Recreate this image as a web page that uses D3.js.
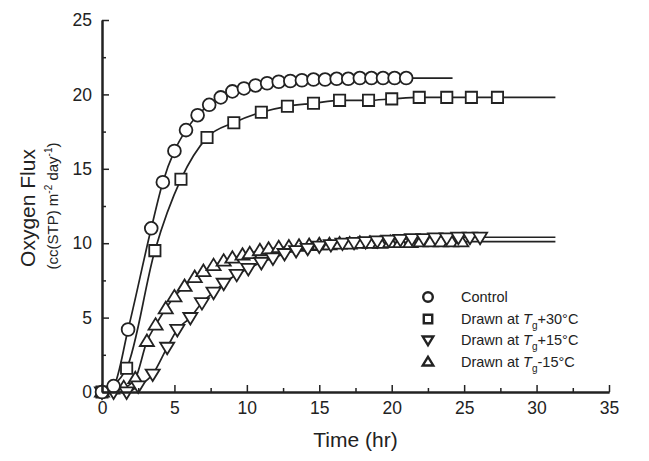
<!DOCTYPE html>
<html>
<head>
<meta charset="utf-8">
<script src="https://cdn.jsdelivr.net/npm/d3@7/dist/d3.min.js"></script>
<style>
  html, body { margin: 0; padding: 0; background: #fff; }
  svg { display: block; }
  text { font-family: "Liberation Sans", Arial, Helvetica, sans-serif; fill: #222; }
</style>
</head>
<body>
<svg id="chart" width="649" height="461"></svg>
<script>
// ---- Data ----
const controlT = [0, 0.8, 1.8, 3.4, 4.2, 5.0, 5.8, 6.6, 7.4, 8.2, 9.0, 9.8, 10.6, 11.4, 12.2, 13.0, 13.8, 14.6, 15.4, 16.2, 17.0, 17.8, 18.6, 19.4, 20.2, 21.0];
const controlV = [0, 0.4, 4.2, 11.0, 14.1, 16.2, 17.6, 18.6, 19.3, 19.8, 20.2, 20.4, 20.6, 20.75, 20.85, 20.9, 20.95, 21.0, 21.0, 21.05, 21.05, 21.1, 21.1, 21.1, 21.1, 21.1];

const plus30T = [0, 1.7, 3.65, 5.45, 7.25, 9.1, 11.0, 12.8, 14.6, 16.4, 18.4, 20.0, 21.9, 23.8, 25.5, 27.3];
const plus30V = [0, 1.6, 9.5, 14.3, 17.1, 18.1, 18.8, 19.2, 19.4, 19.6, 19.6, 19.7, 19.8, 19.8, 19.8, 19.8];

const plus15T = [0, 0.8, 1.7, 2.5, 3.5, 4.5, 5.2, 6.1, 6.9, 7.7, 8.4, 9.3, 10.1, 11.0, 11.8, 12.6, 13.4, 14.2, 15.0, 15.8, 16.6, 17.4, 18.2, 19.0, 19.8, 20.6, 21.4, 22.2, 23.0, 23.8, 24.6, 25.4, 26.1];
const plus15V = [0, 0, 0, 0.4, 1.2, 3.0, 4.2, 5.0, 6.0, 6.7, 7.3, 7.9, 8.3, 8.7, 9.0, 9.3, 9.5, 9.65, 9.8, 9.9, 10.0, 10.05, 10.1, 10.15, 10.2, 10.25, 10.3, 10.3, 10.35, 10.35, 10.4, 10.4, 10.4];

const minus15T = [0, 0.7, 1.5, 2.3, 3.1, 3.7, 4.4, 5.0, 5.7, 6.4, 7.0, 7.7, 8.4, 9.0, 9.7, 10.2, 10.9, 11.5, 12.2, 12.9, 13.6, 14.3, 15.0, 15.7, 16.4, 17.1, 17.8, 18.5, 19.2, 19.9, 20.6, 21.3, 22.0, 22.7, 23.4, 24.1, 24.8];
const minus15V = [0, 0.2, 0.3, 0.9, 3.4, 4.5, 5.6, 6.4, 7.1, 7.7, 8.1, 8.5, 8.8, 9.0, 9.2, 9.3, 9.5, 9.6, 9.7, 9.75, 9.8, 9.85, 9.9, 9.9, 9.95, 9.95, 10.0, 10.0, 10.0, 10.05, 10.05, 10.05, 10.1, 10.1, 10.1, 10.1, 10.1];

// end points of the fitted curves (extension beyond the last marker)
const fitEndT = [24.2, 31.3, 31.3, 31.3];
const fitEndV = [21.1, 19.8, 10.4, 10.1];

const seriesNames = ["Control", "Drawn at Tg+30°C", "Drawn at Tg+15°C", "Drawn at Tg-15°C"];
const xTicks = [0, 5, 10, 15, 20, 25, 30, 35];
const yTicks = [0, 5, 10, 15, 20, 25];
const xMinorTicks = [2.5, 7.5, 12.5, 17.5, 22.5, 27.5, 32.5];
const yMinorTicks = [2.5, 7.5, 12.5, 17.5, 22.5];

// ---- Layout ----
const svg = d3.select("#chart");
const x = d3.scaleLinear().domain([0, 35]).range([102, 609]);
const y = d3.scaleLinear().domain([0, 25]).range([392, 20]);

const series = [
  { t: controlT, v: controlV, shape: "circle" },
  { t: plus30T, v: plus30V, shape: "square" },
  { t: plus15T, v: plus15V, shape: "down" },
  { t: minus15T, v: minus15V, shape: "up" }
].map((s, i) => ({ ...s, name: seriesNames[i], endT: fitEndT[i], endV: fitEndV[i] }));

// ---- Fit lines ----
const line = d3.line().x(d => x(d[0])).y(d => y(d[1])).curve(d3.curveMonotoneX);
series.forEach(s => {
  const pts = s.t.map((t, i) => [t, s.v[i]]);
  pts.push([s.endT, s.endV]);
  svg.append("path")
    .attr("d", line(pts))
    .attr("fill", "none")
    .attr("stroke", "#222")
    .attr("stroke-width", 1.7);
});

// ---- Markers ----
function markerPath(shape, r) {
  if (shape === "square") {
    return `M${-r},${-r}H${r}V${r}H${-r}Z`;
  }
  const h = r * 1.8;
  if (shape === "up") {
    return `M0,${-h * 0.6}L${r * 1.1},${h * 0.4}L${-r * 1.1},${h * 0.4}Z`;
  }
  return `M0,${h * 0.6}L${r * 1.1},${-h * 0.4}L${-r * 1.1},${-h * 0.4}Z`;
}
function drawMarker(g, shape, cx, cy, size, sw) {
  if (shape === "circle") {
    g.append("circle").attr("cx", cx).attr("cy", cy).attr("r", size)
      .attr("fill", "#fff").attr("stroke", "#222").attr("stroke-width", sw);
  } else {
    g.append("path").attr("d", markerPath(shape, shape === "square" ? size * 0.88 : size))
      .attr("transform", `translate(${cx},${cy})`)
      .attr("fill", "#fff").attr("stroke", "#222").attr("stroke-width", sw);
  }
}
const markerOrder = [3, 2, 1, 0];
markerOrder.forEach(k => {
  const s = series[k];
  const g = svg.append("g");
  s.t.forEach((t, i) => drawMarker(g, s.shape, x(t), y(s.v[i]), 6.4, 1.8));
});

// ---- Axes ----
const axX = svg.append("g").attr("transform", `translate(0,${y(0)})`)
  .call(d3.axisBottom(x).tickValues(xTicks).tickSize(-7).tickSizeOuter(0).tickPadding(10));
const axXm = svg.append("g").attr("transform", `translate(0,${y(0)})`)
  .call(d3.axisBottom(x).tickValues(xMinorTicks).tickSize(-4).tickSizeOuter(0).tickFormat(""));
const axY = svg.append("g").attr("transform", `translate(${x(0)},0)`)
  .call(d3.axisLeft(y).tickValues(yTicks).tickSize(-7).tickSizeOuter(0).tickPadding(10));
const axYm = svg.append("g").attr("transform", `translate(${x(0)},0)`)
  .call(d3.axisLeft(y).tickValues(yMinorTicks).tickSize(-4).tickSizeOuter(0).tickFormat(""));

[axX, axXm, axY, axYm].forEach(a => {
  a.select(".domain").attr("stroke", "#222").attr("stroke-width", 2);
  a.selectAll(".tick line").attr("stroke", "#222").attr("stroke-width", 1.5);
  a.selectAll(".tick text").attr("font-size", 17.5).attr("fill", "#2a2a2a")
    .attr("font-family", "Liberation Sans, Arial, sans-serif");
});

// ---- Axis titles ----
svg.append("text")
  .attr("x", x(17.5)).attr("y", 447)
  .attr("text-anchor", "middle").attr("font-size", 21)
  .text("Time (hr)");

svg.append("text")
  .attr("transform", "translate(35,208) rotate(-90)")
  .attr("text-anchor", "middle").attr("font-size", 21)
  .text("Oxygen Flux");

const sub = svg.append("text")
  .attr("transform", "translate(58,206) rotate(-90)")
  .attr("text-anchor", "middle").attr("font-size", 15);
sub.append("tspan").text("(cc(STP) m");
sub.append("tspan").attr("dy", -6).attr("font-size", 10).text("-2");
sub.append("tspan").attr("dy", 6).text(" day");
sub.append("tspan").attr("dy", -6).attr("font-size", 10).text("-1");
sub.append("tspan").attr("dy", 6).text(")");

// ---- Legend ----
const legY = [297, 319, 340, 362];
const legend = svg.append("g");
series.forEach((s, i) => {
  drawMarker(legend, s.shape, 428, legY[i], 4.8, 2.4);
  const txt = legend.append("text").attr("x", 461).attr("y", legY[i] + 5).attr("font-size", 14.5);
  if (i === 0) {
    txt.text(s.name);
  } else {
    const m = s.name.match(/^(Drawn at )T(g)(.*)$/);
    txt.append("tspan").text(m[1]);
    txt.append("tspan").attr("font-style", "italic").text("T");
    txt.append("tspan").attr("dy", 5).attr("font-size", 10).text(m[2]);
    txt.append("tspan").attr("dy", -5).text(m[3]);
  }
});
</script>
</body>
</html>
